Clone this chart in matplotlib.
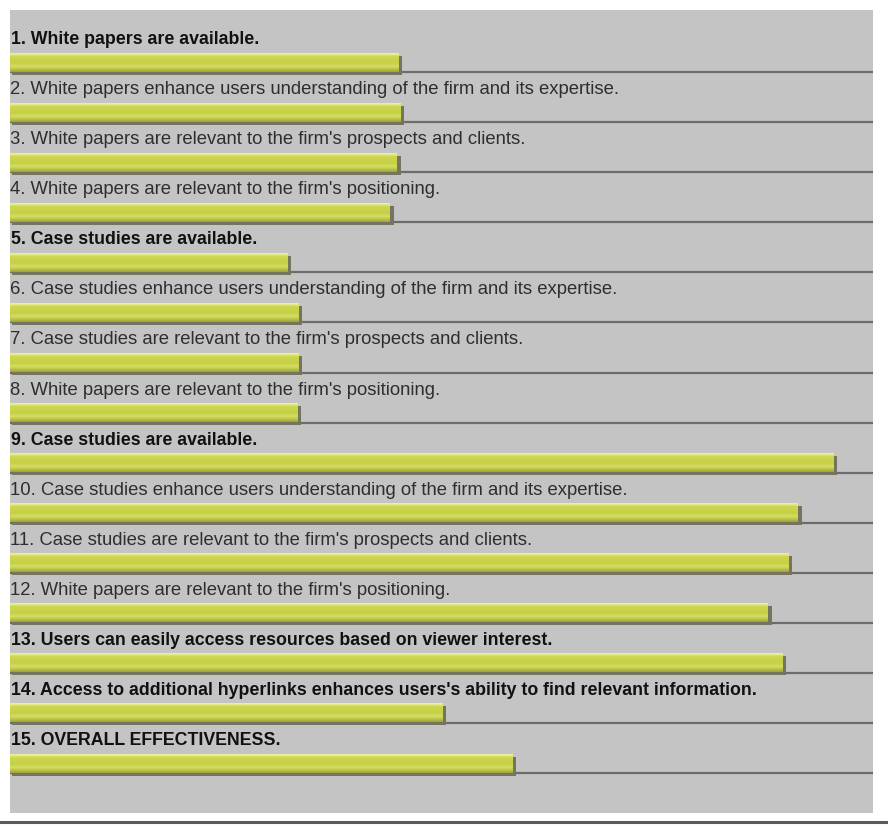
import numpy as np
import matplotlib
matplotlib.use("Agg")
import matplotlib.pyplot as plt
from matplotlib.colors import LinearSegmentedColormap
from matplotlib.lines import Line2D

# Survey statements and the score bar under each one
statements = [
    "1. White papers are available.",
    "2. White papers enhance users understanding of the firm and its expertise.",
    "3. White papers are relevant to the firm's prospects and clients.",
    "4. White papers are relevant to the firm's positioning.",
    "5. Case studies are available.",
    "6. Case studies enhance users understanding of the firm and its expertise.",
    "7. Case studies are relevant to the firm's prospects and clients.",
    "8. White papers are relevant to the firm's positioning.",
    "9. Case studies are available.",
    "10. Case studies enhance users understanding of the firm and its expertise.",
    "11. Case studies are relevant to the firm's prospects and clients.",
    "12. White papers are relevant to the firm's positioning.",
    "13. Users can easily access resources based on viewer interest.",
    "14. Access to additional hyperlinks enhances users's ability to find relevant information.",
    "15. OVERALL EFFECTIVENESS.",
]
scores = [45.0, 45.2, 44.8, 44.0, 32.1, 33.4, 33.4, 33.3,
          95.4, 91.3, 90.2, 87.8, 89.5, 50.1, 58.2]
headline = [True, False, False, False, True, False, False, False,
            True, False, False, False, True, True, True]

W, H = 888, 827
fig = plt.figure(figsize=(W / 100, H / 100), dpi=100, facecolor="white")

# grey panel holding all rows
px_left, px_right, px_top, px_bottom = 10, 873, 10, 813
pitch = 50.07
ax = fig.add_axes([px_left / W, (H - px_bottom) / H,
                   (px_right - px_left) / W, (px_bottom - px_top) / H])
ax.set_facecolor("#c4c4c4")
ymax = (px_bottom - px_top) / pitch
xmax = 100.0
ax.set_xlim(0, xmax)
ax.set_ylim(ymax, 0)
for s in ax.spines.values():
    s.set_visible(False)
ax.set_xticks([])
ax.set_yticks([])

bar_h = 0.38
first_center = 1.04
centers = first_center + np.arange(len(scores))
shadow_dx = 4 * xmax / (px_right - px_left)
shadow_dy = 3 / pitch

grad = LinearSegmentedColormap.from_list(
    "barshade",
    [(0.0, "#f2f6b4"), (0.12, "#e4ea86"), (0.22, "#cdd650"),
     (0.55, "#c6d046"), (0.72, "#d6de62"), (0.86, "#bcc448"),
     (1.0, "#9da23e")])
gimg = np.linspace(0, 1, 64).reshape(-1, 1)

for yc, v, text, bold in zip(centers, scores, statements, headline):
    # separator line along the bottom of each bar
    ax.axhline(yc + bar_h / 2 + 0.01, color="#6c6c6c", lw=1.6, zorder=1)
    # drop shadow
    ax.barh(yc + shadow_dy, v + shadow_dx - 0.2, height=bar_h, left=0.2,
            color="#74745f", zorder=2)
    # gradient bar body
    bar = ax.barh(yc, v, height=bar_h, left=0, color="#c8d24a", zorder=3)[0]
    im = ax.imshow(gimg, cmap=grad, aspect="auto", origin="upper",
                   extent=(0, v, yc + bar_h / 2, yc - bar_h / 2), zorder=4)
    im.set_clip_path(bar)
    if bold:
        ax.text(0.1, yc - 0.45, text, fontsize=12.75, fontweight="bold",
                family="Liberation Sans", color="#111111", va="center", zorder=5)
    else:
        ax.text(0.0, yc - 0.45, text, fontsize=13.3,
                family="Liberation Sans", color="#2e2e2e", va="center", zorder=5)

ax.set_xlim(0, xmax)
ax.set_ylim(ymax, 0)

# rule under the panel
fig.add_artist(Line2D([0, 1], [(H - 822) / H] * 2, color="#5a5a5a", lw=2.2))

fig.savefig("out.png", dpi=100, facecolor="white")
